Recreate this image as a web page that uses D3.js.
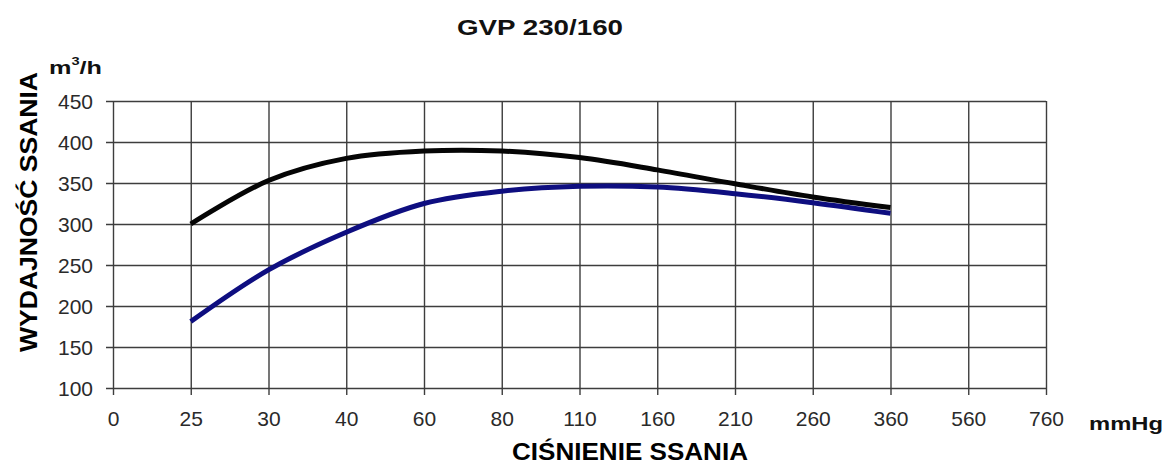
<!DOCTYPE html>
<html>
<head>
<meta charset="utf-8">
<script src="https://cdn.jsdelivr.net/npm/d3@7"></script>
<style>
  html, body { margin: 0; padding: 0; background: #ffffff; }
  svg { display: block; font-family: Arial, "Liberation Sans", Helvetica, sans-serif; }
</style>
</head>
<body>
<svg id="chart" width="1167" height="464"></svg>
<script>
// ---- data ----
const categories = ["0", "25", "30", "40", "60", "80", "110", "160", "210", "260", "360", "560", "760"];
const yTicks = [100, 150, 200, 250, 300, 350, 400, 450];
const seriesCategories = ["25", "30", "40", "60", "80", "110", "160", "210", "260", "360"];
const blackValues = [300, 353, 380, 389, 389, 381, 366, 349, 333, 320];
const blueValues  = [181, 244, 290, 325, 340, 346, 345, 337, 326, 313];

const title = "GVP 230/160";
const yUnit = "m";
const xUnit = "mmHg";
const yTitle = "WYDAJNOŚĆ SSANIA";
const xTitle = "CIŚNIENIE SSANIA";

// ---- layout ----
const svg = d3.select("#chart");
const plotLeft = 113, plotRight = 1046, plotTop = 101, plotBottom = 388;

const x = d3.scalePoint().domain(categories).range([plotLeft, plotRight]);
const y = d3.scaleLinear().domain([100, 450]).range([plotBottom, plotTop]);

const gridColor = "#3d3d3d";

// horizontal grid + y axis
const yAxis = d3.axisLeft(y).tickValues(yTicks).tickSize(-(plotRight - plotLeft)).tickPadding(14)
  .tickFormat(d3.format("d"));
const gy = svg.append("g").attr("transform", `translate(${plotLeft},0)`).call(yAxis);
gy.select(".domain").remove();
gy.selectAll(".tick line").attr("stroke", gridColor).attr("stroke-width", 1.4).attr("x1", -7);
gy.selectAll(".tick text").attr("fill", "#2a2a2a").attr("font-size", 21).attr("x", -20).attr("dy", "0.36em");

// vertical grid + x axis
const xAxis = d3.axisBottom(x).tickSize(-(plotBottom - plotTop)).tickPadding(0);
const gx = svg.append("g").attr("transform", `translate(0,${plotBottom})`).call(xAxis);
gx.select(".domain").remove();
gx.selectAll(".tick line").attr("stroke", gridColor).attr("stroke-width", 1.4).attr("y1", 7);
gx.selectAll(".tick text").attr("fill", "#2a2a2a").attr("font-size", 21).attr("y", 38).attr("dy", 0);

// curves
const line = d3.line()
  .x((d, i) => x(seriesCategories[i]))
  .y(d => y(d))
  .curve(d3.curveCatmullRom.alpha(0.5));

svg.append("path").datum(blueValues)
  .attr("d", line).attr("fill", "none")
  .attr("stroke", "#0e0e80").attr("stroke-width", 5).attr("stroke-linejoin", "round");

svg.append("path").datum(blackValues)
  .attr("d", line).attr("fill", "none")
  .attr("stroke", "#050505").attr("stroke-width", 5).attr("stroke-linejoin", "round");

// titles
svg.append("text").attr("x", 540).attr("y", 35).attr("text-anchor", "middle")
  .attr("font-size", 22).attr("font-weight", "bold").attr("fill", "#111")
  .attr("textLength", 166).attr("lengthAdjust", "spacingAndGlyphs")
  .text(title);

const unit = svg.append("text").attr("x", 49).attr("y", 74)
  .attr("font-size", 19).attr("font-weight", "bold").attr("fill", "#111")
  .attr("textLength", 53).attr("lengthAdjust", "spacingAndGlyphs");
unit.append("tspan").text(yUnit);
unit.append("tspan").attr("font-size", 11).attr("dy", -9).text("3");
unit.append("tspan").attr("dy", 9).text("/h");

svg.append("text").attr("x", 1089).attr("y", 430)
  .attr("font-size", 18).attr("font-weight", "bold").attr("fill", "#111")
  .attr("textLength", 74).attr("lengthAdjust", "spacingAndGlyphs")
  .text(xUnit);

svg.append("text").attr("x", 630).attr("y", 460).attr("text-anchor", "middle")
  .attr("font-size", 23).attr("font-weight", "bold").attr("fill", "#000")
  .attr("textLength", 236).attr("lengthAdjust", "spacingAndGlyphs")
  .text(xTitle);

svg.append("text").attr("transform", "translate(37,212) rotate(-90)")
  .attr("text-anchor", "middle")
  .attr("font-size", 24).attr("font-weight", "bold").attr("fill", "#000")
  .attr("textLength", 280).attr("lengthAdjust", "spacingAndGlyphs")
  .text(yTitle);
</script>
</body>
</html>
